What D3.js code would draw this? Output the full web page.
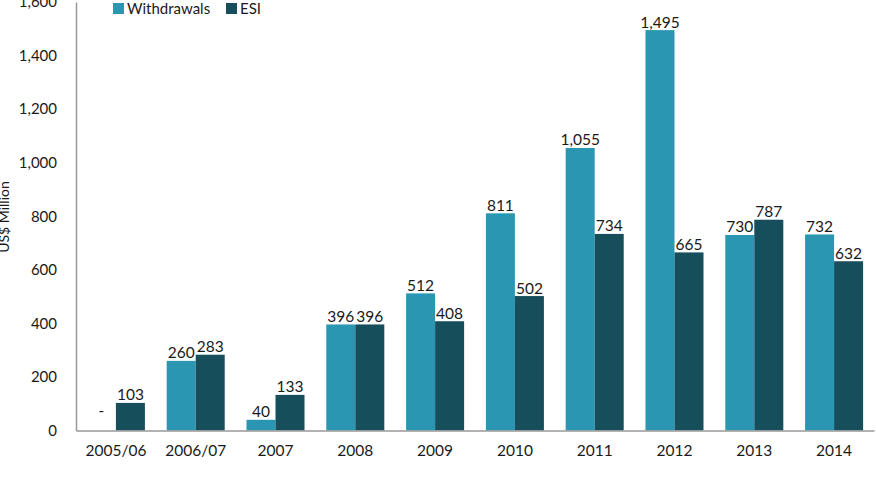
<!DOCTYPE html>
<html><head><meta charset="utf-8">
<script src="https://cdn.jsdelivr.net/npm/d3@7"></script>
<style>body{margin:0;background:#fff}svg{display:block}text{font-family:Lato,"Open Sans",sans-serif;fill:#1a1a1a}</style>
</head><body>
<script>
const categories = ["2005/06","2006/07","2007","2008","2009","2010","2011","2012","2013","2014"];
const withdrawals = [0,260,40,396,512,811,1055,1495,730,732];
const esi = [103,283,133,396,408,502,734,665,787,632];
const withdrawalLabels = ["-","260","40","396","512","811","1,055","1,495","730","732"];
const esiLabels = ["103","283","133","396","408","502","734","665","787","632"];
const yTicks = [0,200,400,600,800,1000,1200,1400,1600];
const seriesNames = ["Withdrawals","ESI"];
const colors = ["#2B96B1","#174E5C"];

const W=876,H=486;
const svg=d3.select("body").append("svg").attr("width",W).attr("height",H);
const x0=d3.scaleBand().domain(categories).range([76,874]).paddingInner(0.273).paddingOuter(0.1365);
const x1=d3.scaleBand().domain(seriesNames).range([0,x0.bandwidth()]);
const y=d3.scaleLinear().domain([0,1600]).range([430.5,2]);

const data=categories.map((c,i)=>({c,vals:[withdrawals[i],esi[i]],labs:[withdrawalLabels[i],esiLabels[i]]}));
const g=svg.selectAll("g.cat").data(data).enter().append("g").attr("transform",d=>`translate(${x0(d.c)},0)`);
g.selectAll("rect").data(d=>d.vals.map((v,k)=>({v,k}))).enter().append("rect")
 .attr("x",d=>x1(seriesNames[d.k])).attr("width",x1.bandwidth())
 .attr("y",d=>y(d.v)).attr("height",d=>y(0)-y(d.v)).attr("fill",d=>colors[d.k]);
g.selectAll("text.lab").data(d=>d.labs.map((l,k)=>({l,k,v:d.vals[k]}))).enter().append("text")
 .attr("class","lab").attr("x",d=>x1(seriesNames[d.k])+x1.bandwidth()/2)
 .attr("y",d=>y(d.v)-2.5-(d.l==="-"?12:0)).attr("text-anchor","middle").attr("font-size",15.5).text(d=>d.l);

// axes
const ya=svg.append("g").attr("transform","translate(76,0)").call(d3.axisLeft(y).tickValues(yTicks).tickSize(0).tickPadding(19).tickFormat(d3.format(",")));
ya.select(".domain").attr("stroke","#999").attr("stroke-width",1.5);
ya.selectAll("text").attr("font-size",15).attr("fill","#1a1a1a").style("font-family","Lato,'Open Sans',sans-serif");
const xa=svg.append("g").attr("transform","translate(0,430.5)").call(d3.axisBottom(x0).tickSize(0).tickPadding(14));
xa.select(".domain").attr("stroke","#999").attr("stroke-width",1.5);
xa.selectAll("text").attr("font-size",15.5).attr("fill","#1a1a1a").style("font-family","Lato,'Open Sans',sans-serif");

svg.append("text").attr("transform","translate(9,217) rotate(-90)").attr("text-anchor","middle").attr("font-size",14).text("US$ Million");

// legend
const lg=svg.append("g");
const lx=[113,226];
seriesNames.forEach((n,k)=>{
 lg.append("rect").attr("x",lx[k]).attr("y",3).attr("width",11).attr("height",11).attr("fill",colors[k]);
 lg.append("text").attr("x",lx[k]+14).attr("y",14).attr("font-size",15).text(n);
});
</script>
</body></html>
